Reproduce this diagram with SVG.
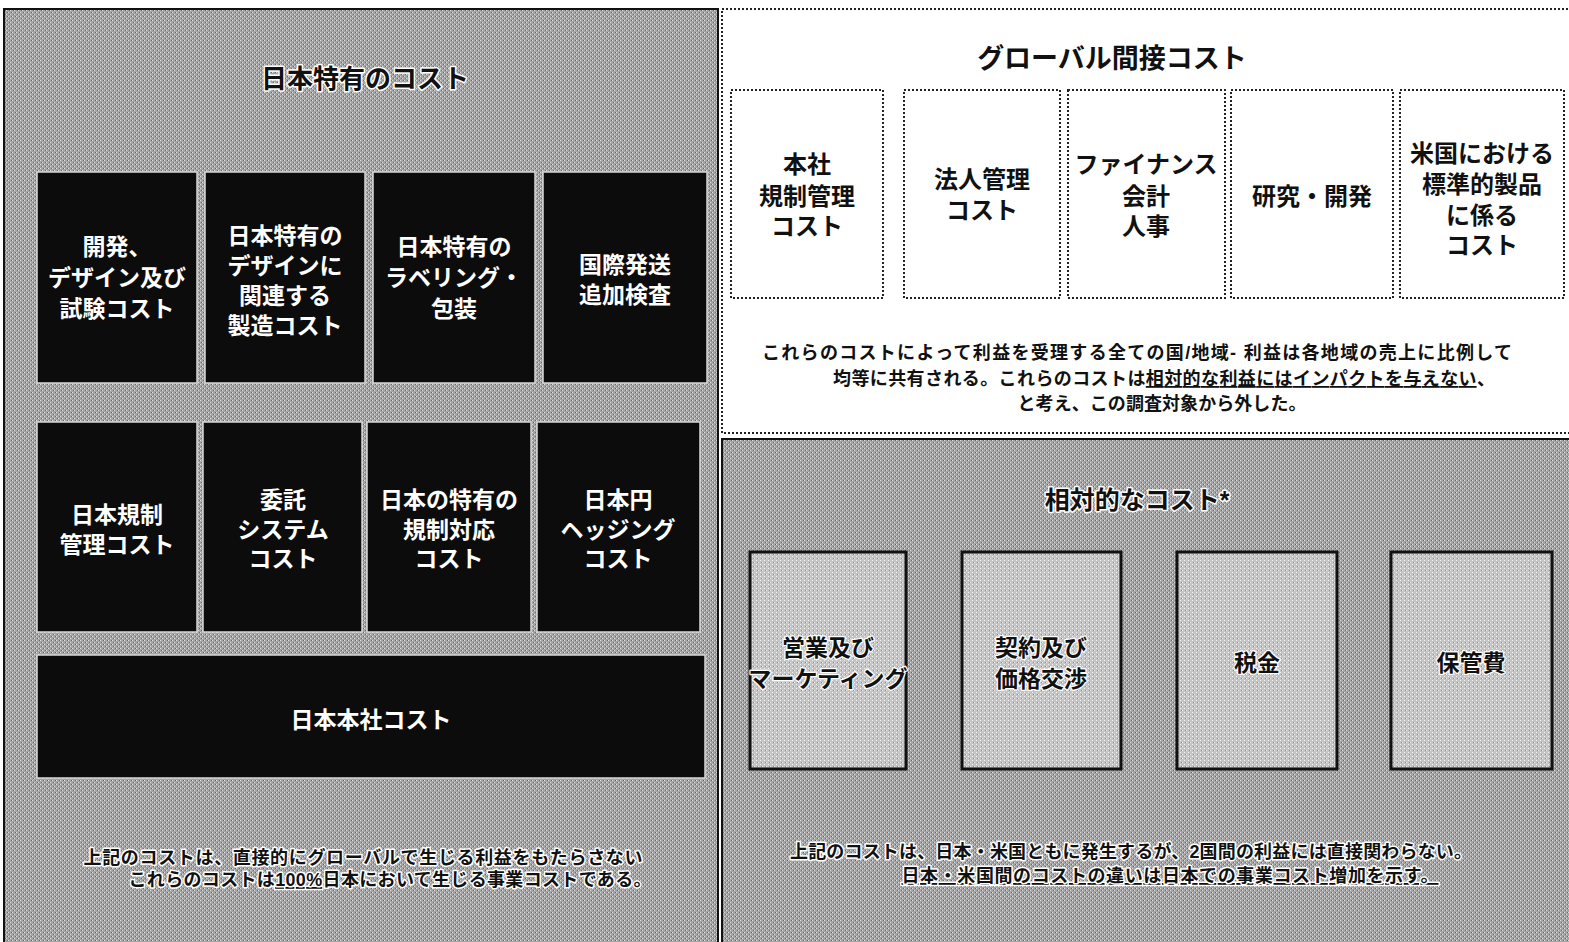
<svg xmlns="http://www.w3.org/2000/svg" width="1569" height="942" viewBox="0 0 1569 942">
<defs>
<pattern id="dither" width="4" height="4" patternUnits="userSpaceOnUse">
<rect width="4" height="4" fill="#a4a4a4"/>
<rect x="0" y="0" width="1" height="1" fill="#e0e0e0"/>
<rect x="2" y="2" width="1" height="1" fill="#e0e0e0"/>
<rect x="1" y="2" width="1" height="1" fill="#6a6a6a"/>
<rect x="3" y="0" width="1" height="1" fill="#6a6a6a"/>
</pattern>
<pattern id="ditherLight" width="4" height="4" patternUnits="userSpaceOnUse">
<rect width="4" height="4" fill="#c4c4c4"/>
<rect x="0" y="0" width="1" height="1" fill="#f2f2f2"/>
<rect x="2" y="2" width="1" height="1" fill="#f2f2f2"/>
<rect x="1" y="2" width="1" height="1" fill="#8a8a8a"/>
</pattern>
</defs>
<style>
text{font-family:"Liberation Sans","Noto Sans CJK JP",sans-serif;text-anchor:middle;}
.blk{fill:#0c0c0c;stroke:#d8d8d8;stroke-width:1.5;}
.wt{fill:#ffffff;font-size:23px;font-weight:bold;}
.title{font-size:26px;font-weight:bold;fill:#111;stroke:#ffffff;stroke-width:3;paint-order:stroke;stroke-linejoin:round;}
.dot{fill:#ffffff;stroke:#222;stroke-width:2;stroke-dasharray:2 2;}
.dt{fill:#111;font-size:24px;font-weight:bold;}
.para{fill:#111;font-size:18px;font-weight:bold;}
.parah{fill:#111;font-size:18px;font-weight:bold;stroke:#ffffff;stroke-width:3;paint-order:stroke;stroke-linejoin:round;}
.rel{fill:url(#ditherLight);stroke:#111;stroke-width:3;}
.rt{fill:#111;font-size:23px;font-weight:bold;stroke:#ffffff;stroke-width:2.5;paint-order:stroke;stroke-linejoin:round;}
</style>

<!-- Left panel -->
<g id="panel-japan">
<rect x="4" y="9" width="714" height="940" fill="url(#dither)" stroke="#111" stroke-width="2"/>
<text class="title" x="365" y="88">日本特有のコスト</text>
</g>
<g id="n-dev">
<rect class="blk" x="37" y="172" width="160" height="211"/>
<text class="wt" x="117" y="255">開発、</text>
<text class="wt" x="117" y="286">デザイン及び</text>
<text class="wt" x="117" y="317">試験コスト</text>
</g>
<g id="n-design">
<rect class="blk" x="205" y="172" width="160" height="211"/>
<text class="wt" x="285" y="244">日本特有の</text>
<text class="wt" x="285" y="274">デザインに</text>
<text class="wt" x="285" y="304">関連する</text>
<text class="wt" x="285" y="334">製造コスト</text>
</g>
<g id="n-label">
<rect class="blk" x="373" y="172" width="162" height="211"/>
<text class="wt" x="454" y="255">日本特有の</text>
<text class="wt" x="454" y="286">ラベリング・</text>
<text class="wt" x="454" y="317">包装</text>
</g>
<g id="n-ship">
<rect class="blk" x="543" y="172" width="164" height="211"/>
<text class="wt" x="625" y="273">国際発送</text>
<text class="wt" x="625" y="303">追加検査</text>
</g>
<g id="n-reg">
<rect class="blk" x="37" y="422" width="160" height="210"/>
<text class="wt" x="117" y="523">日本規制</text>
<text class="wt" x="117" y="553">管理コスト</text>
</g>
<g id="n-consign">
<rect class="blk" x="203" y="422" width="159" height="210"/>
<text class="wt" x="283" y="508">委託</text>
<text class="wt" x="283" y="538">システム</text>
<text class="wt" x="283" y="567">コスト</text>
</g>
<g id="n-regresp">
<rect class="blk" x="367" y="422" width="164" height="210"/>
<text class="wt" x="449" y="508">日本の特有の</text>
<text class="wt" x="449" y="538">規制対応</text>
<text class="wt" x="449" y="567">コスト</text>
</g>
<g id="n-yen">
<rect class="blk" x="537" y="422" width="163" height="210"/>
<text class="wt" x="618" y="508">日本円</text>
<text class="wt" x="618" y="538">ヘッジング</text>
<text class="wt" x="618" y="567">コスト</text>
</g>
<g id="n-hq">
<rect class="blk" x="37" y="655" width="668" height="123"/>
<text class="wt" x="371" y="728">日本本社コスト</text>
</g>
<g id="note-japan">
<text class="parah" x="363" y="864" textLength="559">上記のコストは、直接的にグローバルで生じる利益をもたらさない</text>
<text class="parah" x="390" y="886" textLength="523">これらのコストは<tspan text-decoration="underline">100%</tspan>日本において生じる事業コストである。</text>
</g>

<!-- Right top panel -->
<g id="panel-global">
<rect x="722" y="9" width="850" height="424" fill="#ffffff" stroke="#222" stroke-width="2" stroke-dasharray="2 2"/>
<text x="1112" y="68" style="font-size:27px;fill:#111;font-weight:bold;">グローバル間接コスト</text>
</g>
<g id="n-hqreg">
<rect class="dot" x="731" y="90" width="152" height="208"/>
<text class="dt" x="807" y="173">本社</text>
<text class="dt" x="807" y="205">規制管理</text>
<text class="dt" x="807" y="235">コスト</text>
</g>
<g id="n-corp">
<rect class="dot" x="904" y="90" width="156" height="208"/>
<text class="dt" x="982" y="188">法人管理</text>
<text class="dt" x="982" y="219">コスト</text>
</g>
<g id="n-fin">
<rect class="dot" x="1068" y="90" width="157" height="208"/>
<text class="dt" x="1146" y="173">ファイナンス</text>
<text class="dt" x="1146" y="205">会計</text>
<text class="dt" x="1146" y="235">人事</text>
</g>
<g id="n-rd">
<rect class="dot" x="1231" y="90" width="162" height="208"/>
<text class="dt" x="1312" y="205">研究・開発</text>
</g>
<g id="n-us">
<rect class="dot" x="1400" y="90" width="164" height="208"/>
<text class="dt" x="1482" y="162">米国における</text>
<text class="dt" x="1482" y="193">標準的製品</text>
<text class="dt" x="1482" y="224">に係る</text>
<text class="dt" x="1482" y="254">コスト</text>
</g>
<g id="note-global">
<text class="para" x="1137" y="359" textLength="750">これらのコストによって利益を受理する全ての国/地域- 利益は各地域の売上に比例して</text>
<text class="para" x="1164" y="385" textLength="662">均等に共有される。これらのコストは<tspan text-decoration="underline">相対的な利益にはインパクトを与えない</tspan>、</text>
<text class="para" x="1162" y="410" textLength="289">と考え、この調査対象から外した。</text>
</g>

<!-- Right bottom panel -->
<g id="panel-relative">
<rect x="722" y="439" width="850" height="510" fill="url(#dither)" stroke="#111" stroke-width="2"/>
<text class="title" x="1137" y="509" style="font-size:25px;">相対的なコスト*</text>
</g>
<g id="n-sales">
<rect class="rel" x="750" y="552" width="156" height="217"/>
<text class="rt" x="828" y="656">営業及び</text>
<text class="rt" x="828" y="687">マーケティング</text>
</g>
<g id="n-contract">
<rect class="rel" x="962" y="552" width="159" height="217"/>
<text class="rt" x="1041" y="656">契約及び</text>
<text class="rt" x="1041" y="687">価格交渉</text>
</g>
<g id="n-tax">
<rect class="rel" x="1177" y="552" width="160" height="217"/>
<text class="rt" x="1257" y="671">税金</text>
</g>
<g id="n-storage">
<rect class="rel" x="1391" y="552" width="161" height="217"/>
<text class="rt" x="1471" y="671">保管費</text>
</g>
<g id="note-relative">
<text class="parah" x="1131" y="858" textLength="682">上記のコストは、日本・米国ともに発生するが、2国間の利益には直接関わらない。</text>
<text class="parah" x="1170" y="882" textLength="537" text-decoration="underline">日本・米国間のコストの違いは日本での事業コスト増加を示す。</text>
</g>
</svg>
